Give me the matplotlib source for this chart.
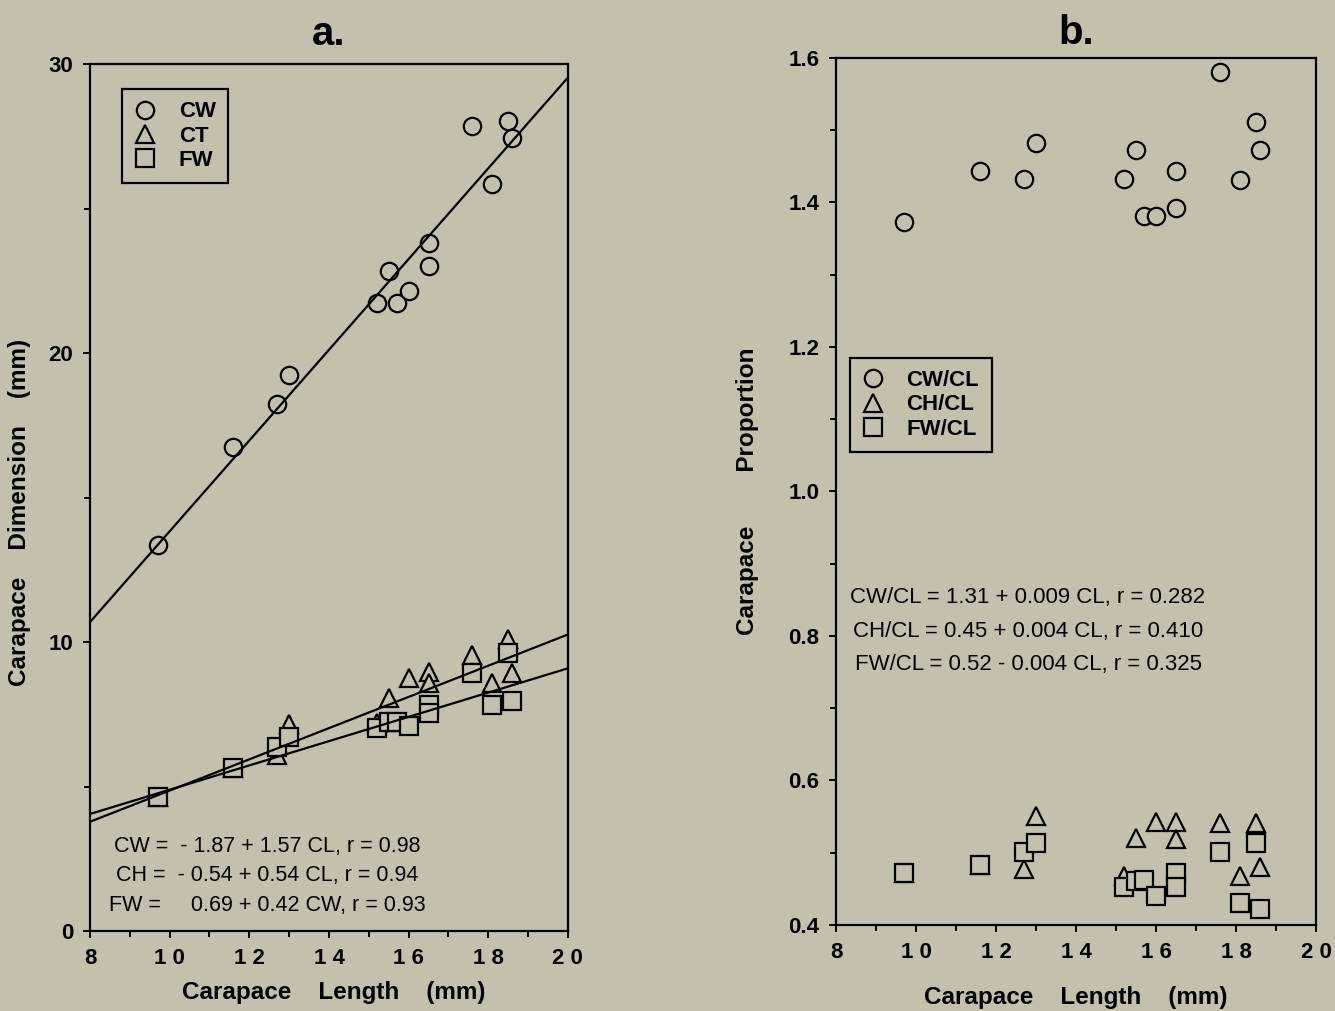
import matplotlib
matplotlib.use("Agg")
import matplotlib.pyplot as plt
from matplotlib.ticker import (MultipleLocator, FixedLocator, FixedFormatter,
                               FormatStrFormatter)
from matplotlib.lines import Line2D

BACKGROUND = "#c4c0ad"
FONT = "Liberation Sans"

# carapace length (mm), one entry per crab
carapace_length = [9.7, 11.6, 12.7, 13.0, 15.2, 15.5, 15.7, 16.0, 16.5, 16.5,
                   17.6, 18.1, 18.5, 18.6]

# panel a: dimensions (mm); three height points sit under their squares
carapace_width = [13.36, 16.75, 18.24, 19.24, 21.73, 22.84, 21.73, 22.15, 23.8,
                  23.0, 27.86, 25.85, 28.03, 27.44]
carapace_height = [4.65, 5.65, 6.1, 7.16, 7.2, 8.05, 7.24, 8.74, 8.97, 8.57,
                   9.55, 8.57, 10.09, 8.94]
front_width = [4.65, 5.65, 6.38, 6.70, 7.01, 7.24, 7.24, 7.09, 7.82, 7.55, 8.92,
               7.82, 9.61, 7.97]

# panel b: proportions
cw_ratio = [1.373, 1.443, 1.432, 1.482, 1.432, 1.473, 1.381, 1.381, 1.443,
            1.392, 1.580, 1.431, 1.511, 1.472]
ch_ratio = [0.472, 0.483, 0.478, 0.551, 0.468, 0.52, 0.462, 0.542, 0.542,
            0.519, 0.541, 0.468, 0.541, 0.48]
fw_ratio = [0.472, 0.483, 0.501, 0.513, 0.452, 0.461, 0.462, 0.44, 0.472,
            0.452, 0.501, 0.431, 0.513, 0.422]

# regression lines (intercept, slope) drawn in panel a
fits = [(-1.87, 1.57), (-0.54, 0.54), (0.69, 0.42)]

equations_a = ["CW =  - 1.87 + 1.57 CL, r = 0.98",
               "CH =  - 0.54 + 0.54 CL, r = 0.94",
               "FW =     0.69 + 0.42 CW, r = 0.93"]
equations_b = ["CW/CL = 1.31 + 0.009 CL, r = 0.282",
               "CH/CL = 0.45 + 0.004 CL, r = 0.410",
               "FW/CL = 0.52 - 0.004 CL, r = 0.325"]

x_ticks = [8, 10, 12, 14, 16, 18, 20]
x_tick_labels = ["8", "1 0", "1 2", "1 4", "1 6", "1 8", "2 0"]

plt.rcParams["font.family"] = FONT


def _marker_style(marker):
    return dict(marker=marker, linestyle="", markersize=12.5,
                markerfacecolor=BACKGROUND, markeredgecolor="black",
                markeredgewidth=1.6)


def _style_axes(axes):
    axes.set_facecolor(BACKGROUND)
    for spine in axes.spines.values():
        spine.set_linewidth(1.6)
    axes.tick_params(which="both", direction="out", width=1.4, colors="black")
    axes.tick_params(which="major", length=5, pad=7, labelsize=16)
    axes.tick_params(which="minor", length=4)
    axes.set_xlim(8, 20)
    axes.xaxis.set_major_locator(FixedLocator(x_ticks))
    axes.xaxis.set_major_formatter(FixedFormatter(x_tick_labels))
    axes.xaxis.set_minor_locator(MultipleLocator(1))


def _bold_ticks(axes):
    for label in axes.get_xticklabels() + axes.get_yticklabels():
        label.set_fontweight("bold")


def _legend(axes, labels, anchor):
    handles = [Line2D([], [], **_marker_style(m)) for m in ("o", "^", "s")]
    legend = axes.legend(handles, labels, loc="upper left",
                         bbox_to_anchor=anchor, frameon=True, fancybox=False,
                         handlelength=1.0, handletextpad=1.0, borderpad=0.55,
                         labelspacing=0.15, borderaxespad=0,
                         prop={"weight": "bold", "size": 16})
    legend.get_frame().set_facecolor(BACKGROUND)
    legend.get_frame().set_edgecolor("black")
    legend.get_frame().set_linewidth(1.6)
    legend.get_frame().set_alpha(1)


figure = plt.figure(figsize=(13.35, 10.11), dpi=100, facecolor=BACKGROUND)

# panel a
axes_a = figure.add_axes([0.0674, 0.0791, 0.358, 0.8576])
_style_axes(axes_a)
axes_a.set_ylim(0, 30)
axes_a.yaxis.set_major_locator(MultipleLocator(10))
axes_a.yaxis.set_minor_locator(MultipleLocator(5))
_bold_ticks(axes_a)
axes_a.plot(carapace_length, carapace_height, zorder=3, **_marker_style("^"))
axes_a.plot(carapace_length, front_width, zorder=4, **_marker_style("s"))
axes_a.plot(carapace_length, carapace_width, zorder=4, **_marker_style("o"))
x_low, x_high = axes_a.get_xlim()
for intercept, slope in fits:
    axes_a.plot([x_low, x_high],
                [intercept + slope * x_low, intercept + slope * x_high],
                color="black", linewidth=1.6, zorder=5)
for row, text in enumerate(equations_a):
    axes_a.text(0.37, 0.097 - row * 0.0335, text, transform=axes_a.transAxes,
                ha="center", va="center", fontsize=15.5)
axes_a.set_title("a.", fontsize=29, fontweight="bold", pad=14)
axes_a.set_xlabel("Carapace    Length    (mm)", fontsize=17.5,
                  fontweight="bold")
axes_a.xaxis.set_label_coords(0.51, -0.058)
axes_a.set_ylabel("Carapace    Dimension    (mm)", fontsize=17.5,
                  fontweight="bold")
axes_a.yaxis.set_label_coords(-0.124, 0.483)
_legend(axes_a, ["CW", "CT", "FW"], (0.067, 0.971))

# panel b
axes_b = figure.add_axes([0.6262, 0.0851, 0.3596, 0.8576])
_style_axes(axes_b)
axes_b.set_ylim(0.4, 1.6)
axes_b.yaxis.set_major_locator(MultipleLocator(0.2))
axes_b.yaxis.set_minor_locator(MultipleLocator(0.1))
axes_b.yaxis.set_major_formatter(FormatStrFormatter("%.1f"))
_bold_ticks(axes_b)
axes_b.plot(carapace_length, ch_ratio, zorder=3, **_marker_style("^"))
axes_b.plot(carapace_length, fw_ratio, zorder=4, **_marker_style("s"))
axes_b.plot(carapace_length, cw_ratio, zorder=4, **_marker_style("o"))
for row, text in enumerate(equations_b):
    axes_b.text(0.4, 0.3775 - row * 0.0385, text, transform=axes_b.transAxes,
                ha="center", va="center", fontsize=16)
axes_b.set_title("b.", fontsize=29, fontweight="bold", pad=10)
axes_b.set_xlabel("Carapace    Length    (mm)", fontsize=17.5,
                  fontweight="bold")
axes_b.xaxis.set_label_coords(0.5, -0.07)
axes_b.set_ylabel("Carapace        Proportion", fontsize=17.5,
                  fontweight="bold")
axes_b.yaxis.set_label_coords(-0.16, 0.5)
_legend(axes_b, ["CW/CL", "CH/CL", "FW/CL"], (0.029, 0.654))

figure.savefig("out.png", dpi=100, facecolor=BACKGROUND)
